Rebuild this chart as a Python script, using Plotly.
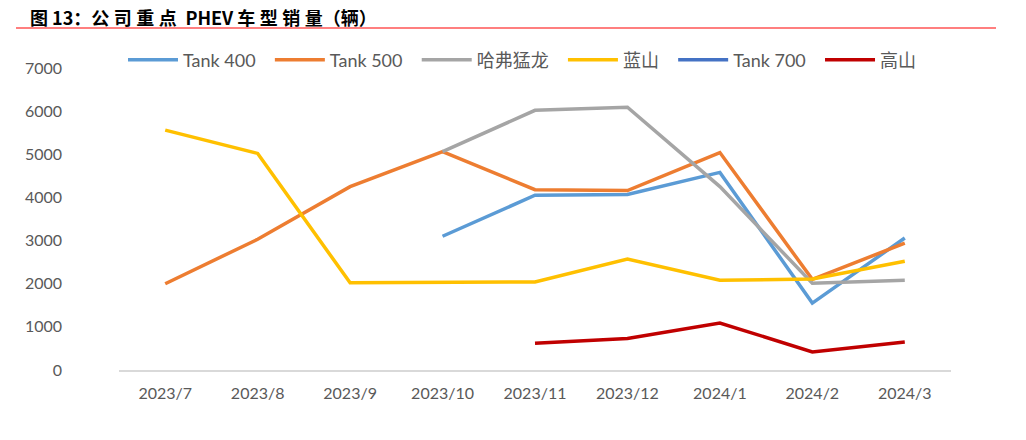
import plotly.graph_objects as go

months = ["2023/7", "2023/8", "2023/9", "2023/10", "2023/11", "2023/12", "2024/1", "2024/2", "2024/3"]

tank400 = [None, None, None, 3100, 4050, 4070, 4580, 1550, 3060]
tank500 = [2000, 3030, 4250, 5060, 4180, 4160, 5040, 2100, 2940]
menglong = [None, None, None, 5060, 6020, 6090, 4250, 2010, 2080]
lanshan = [5560, 5020, 2020, 2030, 2040, 2570, 2080, 2110, 2520]
tank700 = [None] * 9
gaoshan = [None, None, None, None, 620, 730, 1090, 420, 650]

series = [
    ("Tank 400", tank400, "#5B9BD5"),
    ("Tank 500", tank500, "#ED7D31"),
    ("哈弗猛龙", menglong, "#A5A5A5"),
    ("蓝山", lanshan, "#FFC000"),
    ("Tank 700", tank700, "#4472C4"),
    ("高山", gaoshan, "#C00000"),
]

FONT = "Lato, 'Noto Sans CJK SC', sans-serif"

fig = go.Figure()
for name, vals, color in series:
    # pad names so the legend entries sit where the reference puts them
    fig.add_trace(go.Scatter(
        x=months, y=vals, name=name + "\u00a0\u00a0", mode="lines",
        line=dict(color=color, width=3.5),
        connectgaps=False,
    ))

# the page body has an 8px margin, so the figure is drawn at (8, 8)
OFF = 8
W, H = 1026 - OFF, 440 - OFF
L, R, T, B = 119 - OFF, 75, 68 - OFF, 70
pw, ph = W - L - R, H - T - B

def px_x(x):
    return (x - OFF - L) / pw

def px_y(y):
    return (H - B - (y - OFF)) / ph

fig.add_shape(type="line", xref="paper", yref="paper",
              x0=px_x(16), x1=px_x(996), y0=px_y(28), y1=px_y(28),
              line=dict(color="#FF0000", width=1.2))
sp = "\u2005"
title = "图 13：" + sp.join("公司重点") + sp + " PHEV " + sp.join("车型销量") + "（辆）"
fig.add_annotation(text="<b>" + title + "</b>",
                   xref="paper", yref="paper", x=px_x(28), y=px_y(17),
                   xanchor="left", yanchor="middle", showarrow=False,
                   font=dict(family="'Noto Sans CJK SC', sans-serif", size=18, color="#000000"))

fig.update_layout(
    width=W, height=H,
    margin=dict(l=L, r=R, t=T, b=B, autoexpand=False),
    paper_bgcolor="white", plot_bgcolor="white",
    font=dict(family=FONT, size=16, color="#595959"),
    showlegend=True,
    legend=dict(orientation="h", x=px_x(123), y=px_y(60), xanchor="left", yanchor="middle",
                itemwidth=50, tracegroupgap=0,
                font=dict(family=FONT, size=18, color="#595959"),
                bgcolor="rgba(0,0,0,0)"),
    xaxis=dict(type="category", showgrid=False, showline=True, linecolor="#D9D9D9", linewidth=1.5,
               ticks="", tickfont=dict(size=16), range=[-0.5, 8.5], ticklabelstandoff=8),
    yaxis=dict(range=[0, 7000], dtick=1000, showgrid=False, zeroline=False, showline=False,
               ticks="", tickfont=dict(size=16), ticklabelstandoff=56),
)

fig.write_html("out.html")
